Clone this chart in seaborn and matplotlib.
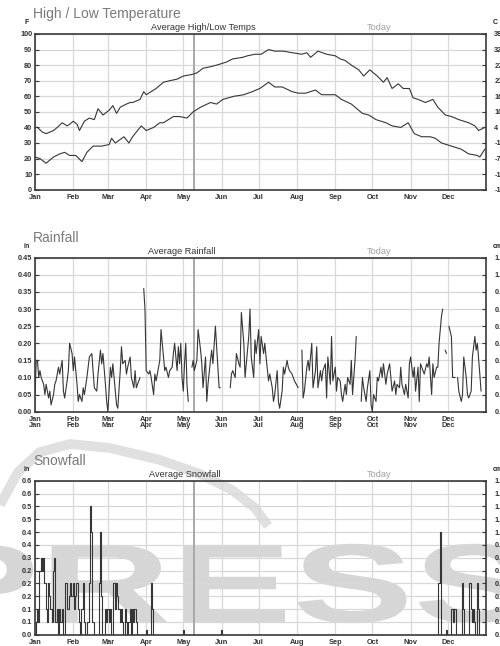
import numpy as np
import pandas as pd
import matplotlib.pyplot as plt
import seaborn as sns
from matplotlib.textpath import TextPath
from matplotlib.patches import PathPatch
from matplotlib.font_manager import FontProperties
from matplotlib.transforms import Affine2D
from matplotlib.lines import Line2D

sns.set_theme(style="white")
plt.rcParams['font.family'] = ['Liberation Sans', 'DejaVu Sans']

# --- datos (día del año) ---
month_start = [0, 31, 59, 90, 120, 151, 181, 212, 243, 273, 304, 334]
month_names = ["Jan", "Feb", "Mar", "Apr", "May", "Jun",
               "Jul", "Aug", "Sep", "Oct", "Nov", "Dec"]
today = 129

high_days = [0, 2, 6, 9, 15, 18, 22, 26, 28, 31, 34, 36, 40, 44, 48, 51, 55, 60, 63, 66,
             69, 74, 77, 79, 85, 88, 90, 94, 98, 104, 109, 115, 120, 127, 131, 136, 142, 147, 155, 160,
             168, 172, 178, 183, 189, 194, 201, 208, 216, 220, 223, 229, 236, 243, 247, 251, 256, 262, 266, 271,
             277, 282, 285, 289, 294, 298, 303, 306, 310, 316, 322, 326, 332, 337, 343, 351, 356, 359, 364]
high_f = [40, 40, 37, 36, 38, 40, 43, 41, 42, 44, 42, 38, 44, 46, 45, 52, 48, 51, 54, 49,
          53, 55, 56, 56, 58, 63, 61, 63, 65, 69, 70, 71, 73, 74, 75, 78, 79, 80, 82, 84,
          85, 86, 87, 87, 90, 89, 89, 88, 87, 88, 85, 89, 87, 86, 84, 83, 80, 77, 73, 77,
          73, 69, 72, 65, 68, 65, 65, 59, 58, 56, 58, 53, 48, 47, 45, 43, 41, 38, 40]

low_days = [0, 4, 9, 15, 20, 24, 28, 33, 38, 42, 47, 54, 60, 62, 65, 72, 76, 79, 82, 86,
            90, 96, 101, 104, 112, 117, 123, 128, 134, 142, 147, 152, 161, 169, 176, 182, 189, 194, 200, 208,
            213, 219, 227, 232, 243, 248, 256, 265, 270, 276, 284, 289, 296, 302, 307, 313, 320, 324, 329, 337,
            345, 351, 358, 360, 364]
low_f = [21, 20, 17, 21, 23, 24, 22, 22, 18, 24, 28, 28, 29, 33, 30, 34, 30, 34, 37, 41,
         38, 40, 43, 43, 47, 47, 46, 50, 53, 56, 55, 58, 60, 61, 63, 65, 69, 66, 66, 63,
         62, 62, 64, 61, 61, 58, 55, 49, 48, 45, 43, 41, 40, 43, 36, 34, 34, 33, 30, 28,
         26, 23, 22, 21, 26]

# None = sin dato (hueco en la línea)
rain_days = [0, 1, 2, 3, 4, 5, 7, 8, 9, 11, 12, 13, 15, 16, 17, 19, 20, 22, 23, 24,
             26, 27, 28, 30, 31, 32, 34, 35, 36, 38, 39, 40, 42, 44, 46, 47, 48, 50, 51, 53,
             54, 55, 57, 58, 59, 61, 62, 63, 65, 66, 67, 69, 70, 71, 73, 74, 75, 77, 78, 80,
             81, 82, 84, 85, 86, 88, 89, 90, 92, 93, 94, 96, 97, 98, 100, 101, 102, 104, 105, 106,
             108, 109, 111, 112, 113, 115, 116, 117, 118, 119, 120, 121, 122, 123, 124, 125, 127, 128, 129, 131,
             132, 134, 135, 136, 138, 139, 140, 142, 143, 144, 146, 148, 149, 150, 151, 158, 159, 160, 162, 163,
             165, 166, 167, 169, 170, 171, 173, 174, 175, 177, 178, 179, 181, 182, 183, 185, 186, 187, 189, 190,
             192, 193, 194, 196, 197, 198, 200, 201, 202, 204, 205, 206, 208, 210, 213, 214, 216, 217, 218, 220,
             221, 222, 224, 225, 227, 228, 229, 231, 232, 233, 235, 236, 237, 239, 240, 241, 243, 244, 245, 247,
             248, 249, 251, 252, 253, 255, 256, 257, 259, 260, 261, 264, 265, 266, 268, 269, 271, 272, 273, 274,
             276, 277, 278, 280, 281, 282, 284, 285, 287, 288, 289, 291, 292, 293, 295, 296, 297, 299, 300, 302,
             303, 304, 306, 307, 308, 310, 311, 312, 314, 315, 317, 318, 319, 321, 322, 323, 325, 326, 327, 329,
             330, 331, 332, 333, 334, 335, 337, 338, 340, 341, 342, 343, 345, 346, 347, 349, 350, 351, 353, 354,
             356, 357, 358, 360, 361]
rain_in = [0.05, 0.15, 0.15, 0.10, 0.12, 0.10, 0.08, 0.05, 0.08, 0.04, 0.06, 0.02, 0.05, 0.08, 0.09, 0.13, 0.11, 0.15, 0.06, 0.04,
           0.09, 0.12, 0.20, 0.17, 0.12, 0.16, 0.08, 0.03, 0.05, 0.03, 0.07, 0.05, 0.10, 0.16, 0.17, 0.12, 0.07, 0.06, 0.11, 0.18,
           0.14, 0.17, 0.08, 0.03, 0.00, 0.13, 0.10, 0.14, 0.06, 0.02, 0.01, 0.12, 0.19, 0.14, 0.15, 0.11, 0.13, 0.16, 0.10, 0.07,
           0.12, 0.07, 0.09, 0.10, None, 0.36, 0.30, 0.12, 0.11, 0.12, 0.10, 0.05, 0.11, 0.09, 0.13, 0.15, 0.24, 0.16, 0.12, 0.13,
           0.10, 0.12, 0.13, 0.17, 0.20, 0.12, 0.19, 0.14, 0.20, 0.10, 0.06, 0.14, 0.20, 0.08, 0.03, None, 0.13, 0.15, 0.12, 0.15,
           0.24, 0.18, 0.14, 0.07, 0.16, 0.03, 0.08, 0.15, 0.18, 0.14, 0.25, 0.13, 0.07, 0.07, None, 0.07, 0.11, 0.12, 0.10, 0.17,
           0.14, 0.13, 0.29, 0.20, 0.10, 0.14, 0.22, 0.30, 0.16, 0.10, 0.21, 0.17, 0.24, 0.14, 0.22, 0.17, 0.20, 0.16, 0.09, 0.11,
           0.07, 0.03, 0.05, 0.12, 0.03, 0.01, 0.06, 0.13, 0.11, 0.15, 0.13, 0.12, 0.11, 0.09, 0.07, None, 0.18, 0.04, 0.06, 0.13,
           0.15, 0.12, 0.20, 0.07, 0.12, 0.19, 0.07, 0.12, 0.09, 0.12, 0.14, 0.04, 0.16, 0.08, 0.22, 0.09, 0.13, 0.06, 0.10, 0.09,
           0.05, 0.03, 0.08, 0.05, 0.10, 0.08, 0.15, 0.05, 0.15, 0.22, None, 0.03, 0.10, 0.07, 0.03, 0.07, 0.12, 0.02, 0.00, 0.05,
           0.03, 0.10, 0.09, 0.13, 0.10, 0.14, 0.08, 0.11, 0.14, 0.10, 0.06, 0.09, 0.05, 0.08, 0.07, 0.13, 0.08, 0.05, 0.08, 0.04,
           0.14, 0.16, 0.10, 0.13, 0.06, 0.13, 0.03, 0.14, 0.12, 0.11, 0.14, 0.13, 0.16, 0.05, 0.14, 0.10, 0.13, 0.13, 0.20, 0.28,
           0.30, None, 0.18, 0.17, None, 0.25, 0.22, 0.10, 0.10, None, 0.10, 0.06, 0.03, 0.05, 0.16, 0.10, 0.05, 0.04, 0.06, 0.16,
           0.22, 0.18, 0.20, 0.11, 0.06]

snow_days = [0, 1, 2, 3, 4, 5, 6, 7, 8, 9, 10, 11, 12, 13, 14, 15, 16, 17, 18, 19,
             20, 21, 22, 23, 25, 26, 27, 28, 29, 30, 31, 32, 33, 34, 35, 36, 37, 38, 39, 40,
             41, 43, 44, 45, 46, 47, 48, 51, 52, 53, 54, 55, 56, 57, 58, 59, 60, 61, 62, 63,
             64, 65, 66, 67, 68, 69, 70, 71, 72, 73, 74, 75, 76, 77, 78, 79, 80, 81, 82, 83,
             89, 90, 91, 93, 94, 95, 96, 119, 120, 121, 150, 151, 152, 326, 327, 328, 329, 332, 333, 334,
             336, 337, 338, 339, 340, 341, 345, 346, 347, 348, 351, 352, 353, 354, 355, 356, 357, 358, 359, 360,
             364]
snow_in = [0.00, 0.05, 0.10, 0.05, 0.25, 0.30, 0.25, 0.30, 0.20, 0.10, 0.05, 0.20, 0.15, 0.10, 0.05, 0.25, 0.30, 0.05, 0.10, 0.00,
           0.10, 0.05, 0.10, 0.00, 0.20, 0.10, 0.10, 0.15, 0.20, 0.15, 0.20, 0.10, 0.15, 0.20, 0.10, 0.05, 0.00, 0.10, 0.20, 0.05,
           0.00, 0.05, 0.20, 0.50, 0.40, 0.05, 0.00, 0.00, 0.20, 0.40, 0.15, 0.00, 0.00, 0.10, 0.05, 0.10, 0.05, 0.10, 0.00, 0.00,
           0.20, 0.10, 0.20, 0.15, 0.10, 0.05, 0.10, 0.05, 0.00, 0.10, 0.05, 0.00, 0.05, 0.10, 0.00, 0.10, 0.05, 0.10, 0.05, 0.00,
           0.00, 0.02, 0.00, 0.00, 0.20, 0.10, 0.00, 0.00, 0.02, 0.00, 0.00, 0.02, 0.00, 0.00, 0.20, 0.40, 0.00, 0.00, 0.02, 0.00,
           0.00, 0.10, 0.10, 0.05, 0.10, 0.00, 0.00, 0.20, 0.10, 0.00, 0.00, 0.20, 0.10, 0.05, 0.10, 0.05, 0.00, 0.20, 0.10, 0.00,
           0.00]

temp_ticks = [0, 10, 20, 30, 40, 50, 60, 70, 80, 90, 100]
temp_c_labels = ["-18", "-12", "-7", "-1", "4", "10", "16", "21", "27", "32", "38"]
rain_ticks = [0.00, 0.05, 0.10, 0.15, 0.20, 0.25, 0.30, 0.35, 0.40, 0.45]
rain_labels = ["0.00", "0.05", "0.10", "0.15", "0.20", "0.25", "0.30", "0.35", "0.40", "0.45"]
rain_cm_labels = ["0.00", "0.13", "0.25", "0.38", "0.51", "0.64", "0.76", "0.89", "1.02", "1.14"]
snow_ticks = [0.00, 0.05, 0.10, 0.15, 0.20, 0.25, 0.30, 0.35, 0.40, 0.45, 0.50, 0.55, 0.60]
snow_labels = ["0.0", "0.1", "0.1", "0.2", "0.2", "0.2", "0.3", "0.4", "0.4", "0.5", "0.5", "0.6", "0.6"]
snow_cm_labels = ["0.0", "0.1", "0.3", "0.4", "0.5", "0.6", "0.8", "0.9", "1.0", "1.1", "1.3", "1.4", "1.5"]

W, H = 500, 646
fig = plt.figure(figsize=(W / 100, H / 100), dpi=100)


def fx(x):
    return x / W


def fy(y):
    return 1 - y / H


def panel(top, bottom, ylim, yticks, ylabels, rlabels, xlabels, title, unit_l, unit_r, subtitle, sub_x):
    ax = fig.add_axes([fx(35), fy(bottom), fx(486) - fx(35), (bottom - top) / H])
    ax.set_facecolor('none')
    ax.set_xlim(0, 365)
    ax.set_ylim(*ylim)
    ax.set_xticks(month_start)
    ax.set_xticklabels(xlabels, linespacing=0.85, fontweight='bold')
    ax.set_yticks(yticks)
    ax.set_yticklabels(ylabels, fontweight='bold')
    ax.grid(True, color='#d8d8d8', lw=0.9)
    ax.axvline(today, color='#a8a8a8', lw=1.4, zorder=1)
    for s in ax.spines.values():
        s.set_color('#3a3a3a')
        s.set_linewidth(1.2)
    ax.tick_params(axis='both', direction='in', length=3, width=0.8, labelsize=5.3,
                   labelcolor='#333333', color='#3a3a3a')
    ax.tick_params(axis='y', pad=2)
    ax.tick_params(axis='x', pad=3)

    tw = ax.twinx()
    tw.set_ylim(*ylim)
    tw.set_yticks(yticks)
    tw.set_yticklabels(rlabels, fontweight='bold')
    tw.tick_params(axis='y', direction='in', length=3, width=0.8, labelsize=5.3,
                   labelcolor='#333333', color='#3a3a3a', pad=6)
    for s in tw.spines.values():
        s.set_visible(False)

    fig.text(fx(33), fy(top - 20), title, fontsize=10, color='#7a7a7a', va='center', ha='left')
    fig.text(fx(27), fy(top - 11), unit_l, fontsize=5, color='#222222', weight='bold', va='center', ha='center')
    fig.text(fx(493), fy(top - 11), unit_r, fontsize=5, color='#222222', weight='bold', va='center', ha='left')
    fig.text(fx(sub_x), fy(top - 6.5), subtitle, fontsize=6.6, color='#333333', va='center', ha='center')
    fig.text(fx(379), fy(top - 6.5), "Today", fontsize=6.6, color='#a0a0a0', va='center', ha='center')
    return ax


# marca de agua de fondo (letras anchas y arco)
wm = TextPath((0, 0), "PRESS", size=1, prop=FontProperties(family='Liberation Sans', weight='bold'))
wm_patch = PathPatch(wm, facecolor='#d6d6d6', edgecolor='none', zorder=-2,
                     transform=Affine2D().scale(182, 112).translate(-82, H - 622))
fig.add_artist(wm_patch)
arc_x = [0, 18, 40, 70, 110, 160, 200, 232, 255, 268]
arc_y = [505, 472, 452, 444, 448, 460, 474, 490, 508, 526]
fig.add_artist(Line2D(arc_x, [H - v for v in arc_y], color='#e0e0e0', lw=7,
                      solid_capstyle='butt', zorder=-2, transform=Affine2D()))

line_kw = dict(color='#363636', lw=0.8, legend=False)

# --- temperatura ---
ax1 = panel(34, 189.7, (0, 100), temp_ticks, [str(t) for t in temp_ticks], temp_c_labels,
            month_names, "High / Low Temperature", "F", "C", "Average High/Low Temps", 203)
sns.lineplot(x=high_days, y=high_f, ax=ax1, **line_kw)
sns.lineplot(x=low_days, y=low_f, ax=ax1, **line_kw)

# --- lluvia ---
rain = pd.DataFrame({'day': rain_days, 'inch': rain_in})
rain['seg'] = rain['inch'].isna().cumsum()
rain = rain.dropna()
ax2 = panel(257.7, 411.7, (0, 0.45), rain_ticks, rain_labels, rain_cm_labels,
            [f"{m}\n{m}" for m in month_names], "Rainfall", "in", "cm", "Average Rainfall", 182)
sns.lineplot(data=rain, x='day', y='inch', units='seg', estimator=None, ax=ax2, **line_kw)

# --- nieve ---
ax3 = panel(480.7, 634.7, (0, 0.6), snow_ticks, snow_labels, snow_cm_labels,
            month_names, "Snowfall", "in", "cm", "Average Snowfall", 185)
sns.lineplot(x=snow_days, y=snow_in, ax=ax3, drawstyle='steps-mid', **line_kw)

for ax in (ax1, ax2, ax3):
    ax.set_xlabel("")
    ax.set_ylabel("")

fig.savefig("out.png", dpi=100)
